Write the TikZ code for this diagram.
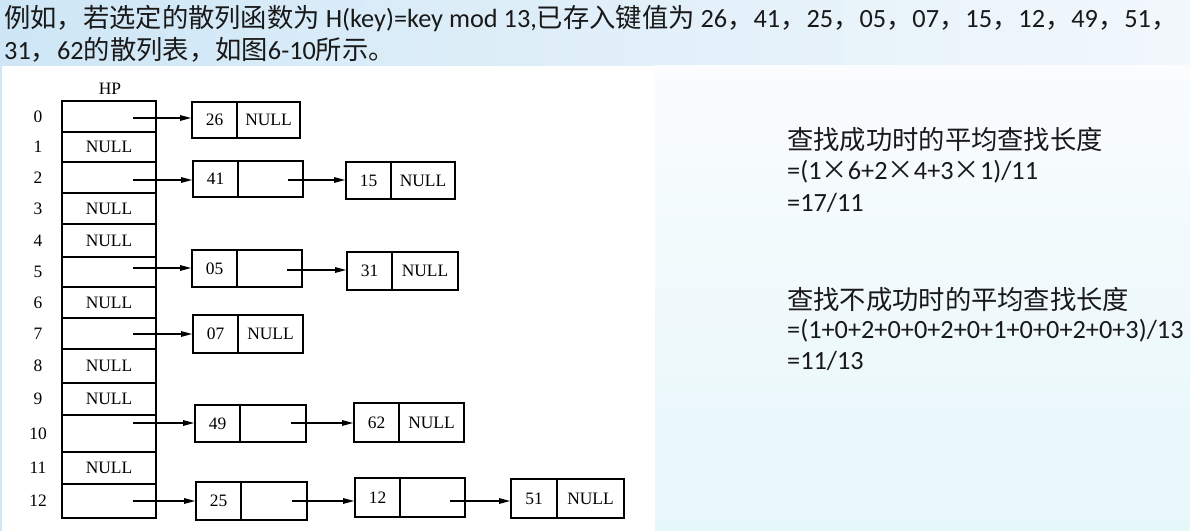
\documentclass[tikz,border=0pt]{standalone}
\usepackage{fontspec}
\setmainfont{Carlito}
\newfontfamily\cjkf{Noto Sans CJK SC}
\newfontfamily\tms{Liberation Serif}
\usetikzlibrary{arrows.meta}
\newcommand\C[1]{{\cjkf #1}}
\newcommand\X{\makebox[1em]{\cjkf ×}}
\newcommand\mkbox[8]{%
  \pgfmathsetmacro\wa{#3-#2}\pgfmathsetmacro\wb{#4-#3}\pgfmathsetmacro\hh{#6-#5}%
  \node[cell, minimum width=\wa bp, minimum height=\hh bp] (#1) at ({(#2+#3)/2},{(#5+#6)/2}) {#7};
  \node[cell, minimum width=\wb bp, minimum height=\hh bp] (#1p) at ({(#3+#4)/2},{(#5+#6)/2}) {#8};}
\definecolor{bgA}{RGB}{206,230,246}
\definecolor{bgB}{RGB}{242,248,252}
\definecolor{bgC}{RGB}{250,252,254}
\definecolor{bgD}{RGB}{230,247,250}
\definecolor{txt}{RGB}{25,25,25}
\begin{document}
\begin{tikzpicture}[x=1bp,y=-1bp,
  cell/.style={draw, line width=1.7bp, inner sep=0pt, font=\tms\fontsize{17.5}{17.5}\selectfont},
  lbl/.style={inner sep=0pt, font=\tms\fontsize{17.5}{17.5}\selectfont},
  arr/.style={line width=1.3bp, -{Triangle[length=11bp,width=5.5bp]}},
  rt/.style={anchor=west, inner sep=0pt, text=txt, font=\fontsize{26.4}{30}\selectfont},
]
\useasboundingbox (0,0) rectangle (1190,531);
% background
\shade[left color=bgA, right color=bgB] (0,0) rectangle (1190,531);
\shade[top color=bgC, bottom color=bgD] (655,66) rectangle (1190,531);
\fill[white] (2,66) rectangle (655,531);
% top text
\node[rt] (top1) at (4,18) {\C{例如，若选定的散列函数为} H(key)=key mod 13,\C{已存入键值为} 26\C{，}41\C{，}25\C{，}05\C{，}07\C{，}15\C{，}12\C{，}49\C{，}51\C{，}};
\node[rt] (top2) at (4,50) {31\C{，}62\C{的散列表，如图}6-10\C{所示。}};
% HP table
\node[lbl] (hp) at (110,89) {HP};
\foreach \i/\t/\b/\txt in {0/101/132/,1/132/162/NULL,2/162/193/,3/193/224/NULL,4/224/257/NULL,5/257/287/,6/287/318/NULL,7/318/349/,8/349/383/NULL,9/383/415/NULL,10/415/452/,11/452/484/NULL,12/484/518/}{
  \pgfmathsetmacro\hh{\b-\t}
  \node[cell, minimum width=94bp, minimum height=\hh bp] (hp\i) at (109,{(\t+\b)/2}) {\txt};
  \node[lbl] (l\i) at (38,{(\t+\b)/2}) {\i};
}
% chain boxes
\mkbox{b26}{192}{237}{300}{102}{138}{26}{NULL}
\mkbox{b41}{193}{238}{303}{161}{197}{41}{}
\mkbox{b15}{346}{391}{455}{162}{199}{15}{NULL}
\mkbox{b05}{192}{237}{302}{250}{287}{05}{}
\mkbox{b31}{347}{392}{458}{252}{290}{31}{NULL}
\mkbox{b07}{193}{238}{303}{315}{353}{07}{NULL}
\mkbox{b49}{195}{240}{306}{405}{442}{49}{}
\mkbox{b62}{354}{399}{464}{403}{442}{62}{NULL}
\mkbox{b25}{196}{241}{307}{482}{520}{25}{}
\mkbox{b12}{355}{400}{465}{478}{517}{12}{}
\mkbox{b51}{511}{557}{624}{479}{518}{51}{NULL}
% arrows from table
\coordinate (a0) at (133,118);
\coordinate (a2) at (133,180);
\coordinate (a5) at (133,268);
\coordinate (a7) at (133,334);
\coordinate (a10) at (133,423);
\coordinate (a12) at (133,501);
\draw[arr] (a0) -- (a0 -| b26.west);
\draw[arr] (a2) -- (a2 -| b41.west);
\draw[arr] (a5) -- (a5 -| b05.west);
\draw[arr] (a7) -- (a7 -| b07.west);
\draw[arr] (a10) -- (a10 -| b49.west);
\draw[arr] (a12) -- (a12 -| b25.west);
% chain arrows
\coordinate (c41) at (288,180);
\coordinate (c05) at (287,270);
\coordinate (c49) at (291,423);
\coordinate (c25) at (292,501);
\coordinate (c12) at (450,501);
\draw[arr] (c41) -- (c41 -| b15.west);
\draw[arr] (c05) -- (c05 -| b31.west);
\draw[arr] (c49) -- (c49 -| b62.west);
\draw[arr] (c25) -- (c25 -| b12.west);
\draw[arr] (c12) -- (c12 -| b51.west);
% right text
\node[rt] (s1) at (787,140) {\C{查找成功时的平均查找长度}};
\node[rt] (s2) at (787,172) {=(1\X 6+2\X 4+3\X 1)/11};
\node[rt] (s3) at (787,203) {=17/11};
\node[rt] (u1) at (787,300) {\C{查找不成功时的平均查找长度}};
\node[rt] (u2) at (787,331) {=(1+0+2+0+0+2+0+1+0+0+2+0+3)/13};
\node[rt] (u3) at (787,361) {=11/13};
\end{tikzpicture}
\end{document}
